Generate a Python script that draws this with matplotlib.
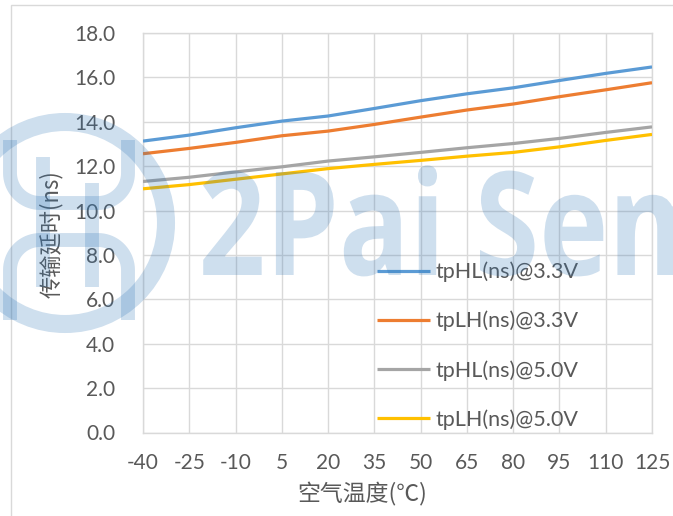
import numpy as np
import matplotlib
matplotlib.use("Agg")
import matplotlib.pyplot as plt
from matplotlib.patches import Circle, PathPatch, Rectangle
from matplotlib.textpath import TextPath
from matplotlib.font_manager import FontProperties
from matplotlib.transforms import Affine2D

# temperature categories (air temperature, °C)
temps = ["-40", "-25", "-10", "5", "20", "35", "50", "65", "80", "95", "110", "125"]

# propagation delay (ns)
tphl_33 = [13.13, 13.40, 13.73, 14.03, 14.26, 14.60, 14.95, 15.26, 15.53, 15.86, 16.18, 16.47]
tplh_33 = [12.56, 12.80, 13.07, 13.37, 13.58, 13.88, 14.21, 14.53, 14.80, 15.13, 15.44, 15.76]
tphl_50 = [11.31, 11.50, 11.74, 11.97, 12.23, 12.42, 12.62, 12.83, 13.02, 13.25, 13.52, 13.77]
tplh_50 = [10.98, 11.17, 11.41, 11.65, 11.89, 12.08, 12.26, 12.45, 12.62, 12.87, 13.16, 13.43]

series_names = ["tpHL(ns)@3.3V", "tpLH(ns)@3.3V", "tpHL(ns)@5.0V", "tpLH(ns)@5.0V"]
series_colors = ["#5B9BD5", "#ED7D31", "#A5A5A5", "#FFC000"]
yticks = [0, 2, 4, 6, 8, 10, 12, 14, 16, 18]

W, H = 673, 516
TXT = "#595959"
GRID = "#D9D9D9"

fig = plt.figure(figsize=(W / 100, H / 100), dpi=100)

# chart area border (only top/left visible in the crop)
fig.add_artist(Rectangle((11 / W, -0.1), 1.2, 1 - 5 / H + 0.1, transform=fig.transFigure,
                         fill=False, edgecolor=GRID, linewidth=1))

ax = fig.add_axes([143 / W, (H - 432.5) / H, 509 / W, 399.5 / H])
xs = np.arange(len(temps))
for vals, name, col in zip([tphl_33, tplh_33, tphl_50, tplh_50], series_names, series_colors):
    ax.plot(xs, vals, color=col, linewidth=2.3, label=name, solid_capstyle="butt", zorder=3)

ax.set_xlim(0, len(temps) - 1)
ax.set_ylim(0, 18)
ax.set_xticks(xs)
ax.set_xticklabels(temps)
ax.set_yticks(yticks)
ax.set_yticklabels([f"{v:.1f}" for v in yticks])
ax.tick_params(length=0, labelsize=15, labelcolor=TXT)
ax.tick_params(axis="x", pad=15)
ax.tick_params(axis="y", pad=20)
for lbl in ax.get_xticklabels() + ax.get_yticklabels():
    lbl.set_fontfamily("Lato")
ax.grid(True, color=GRID, linewidth=1)
ax.set_axisbelow(True)
for sp in ax.spines.values():
    sp.set_color(GRID)
    sp.set_linewidth(1)

leg = ax.legend(loc="upper left", bbox_to_anchor=(0.4597, 0.428), frameon=False,
                prop={"family": "Lato", "size": 15.5}, handlelength=2.45,
                handletextpad=0.25, labelspacing=1.33, borderpad=0, borderaxespad=0)
for t in leg.get_texts():
    t.set_color(TXT)

fig.text(362 / W, 1 - 494 / H, "空气温度(℃)", ha="center", va="center", fontsize=16.5,
         color=TXT, family=["Noto Sans CJK SC", "DejaVu Sans"])
fig.text(51 / W, 1 - 234 / H, "传输延时(ns)", ha="center", va="center", rotation=90,
         fontsize=16, color=TXT, family=["Noto Sans CJK SC", "DejaVu Sans"])

# watermark overlay, drawn in pixel coordinates
bg = fig.add_axes([0, 0, 1, 1], zorder=10)
bg.set_xlim(0, W)
bg.set_ylim(0, H)
bg.axis("off")
bg.patch.set_visible(False)
wm = dict(color="#2E75B6", alpha=0.23)

bg.add_patch(Circle((65, H - 223), 101, fill=False, edgecolor=wm["color"], alpha=wm["alpha"],
                    linewidth=13))


def rounded_u(x0, x1, ybase, yend, r):
    # U / inverted-U outline used in the logo
    sgn = 1 if yend < ybase else -1
    a = np.linspace(0, np.pi / 2, 20)
    right = [(x1, yend), (x1, ybase - sgn * r)]
    arc_r = [(x1 - r + r * np.cos(t), ybase - sgn * r + sgn * r * np.sin(t)) for t in a]
    arc_l = [(x0 + r - r * np.cos(t), ybase - sgn * r + sgn * r * np.sin(t)) for t in a[::-1]]
    left = [(x0, ybase - sgn * r), (x0, yend)]
    pts = np.array(right + arc_r + arc_l + left)
    return pts[:, 0], H - pts[:, 1]


for args in [(10, 128, 203, 140, 30), (10, 128, 240, 320, 30)]:
    px, py = rounded_u(*args)
    bg.plot(px, py, linewidth=10, solid_capstyle="butt", **wm)
bg.plot([43, 43], [H - 157, H - 287], linewidth=10, solid_capstyle="butt", **wm)
bg.plot([92, 92], [H - 183, H - 287], linewidth=10, solid_capstyle="butt", **wm)

fp = FontProperties(family="Open Sans", weight="bold")
ext = TextPath((0, 0), "2Pai", size=100, prop=fp).get_extents()
cap = TextPath((0, 0), "P", size=100, prop=fp).get_extents().y1
sx = 234 / (ext.x1 - ext.x0)
sy = 103 / cap
for word, left in [("2Pai", 203), ("Semi", 480)]:
    tp = TextPath((0, 0), word, size=100, prop=fp)
    x0 = tp.get_extents().x0
    tr = Affine2D().translate(-x0, 0).scale(sx, sy).translate(left, H - 275) + bg.transData
    bg.add_patch(PathPatch(tp, transform=tr, facecolor=wm["color"], edgecolor="none",
                           alpha=wm["alpha"]))

fig.savefig("out.png", dpi=100)
